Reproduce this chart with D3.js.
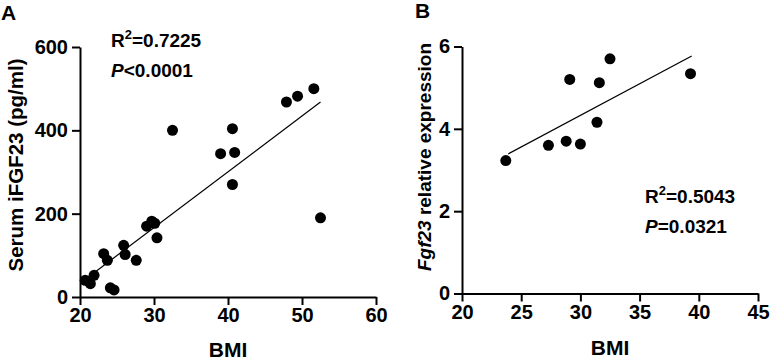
<!DOCTYPE html>
<html>
<head>
<meta charset="utf-8">
<script src="https://cdn.jsdelivr.net/npm/d3@7"></script>
<style>
  body { margin: 0; background: #fff; }
  text { font-family: "Liberation Sans", Arial, sans-serif; font-weight: bold; fill: #000; }
</style>
</head>
<body>
<script>
// Panel A: BMI vs serum iFGF23 (pg/ml)
var bmiA = [32.5, 40.6, 39.0, 40.9, 47.9, 49.4, 51.6, 40.6, 52.5,
            20.7, 21.4, 21.9, 23.2, 23.7, 24.1, 24.6, 25.9, 26.1, 27.6, 29.0, 29.7, 30.1, 30.4];
var ifgfA = [400, 404, 344, 347, 468, 482, 500, 270, 190,
             40, 32, 52, 104, 88, 22, 17, 124, 102, 88, 170, 182, 177, 142];
var fitAx = [20.7, 52.5];
var fitAy = [42, 468];

// Panel B: BMI vs Fgf23 relative expression
var bmiB = [23.7, 27.3, 28.8, 30.0, 29.1, 31.6, 31.4, 32.5, 39.3];
var fgfB = [3.23, 3.60, 3.70, 3.63, 5.20, 5.12, 4.16, 5.70, 5.34];
var fitBx = [23.9, 39.4];
var fitBy = [3.39, 5.77];

var ticksAx = [20, 30, 40, 50, 60];
var ticksAy = [0, 200, 400, 600];
var ticksBx = [20, 25, 30, 35, 40, 45];
var ticksBy = [0, 2, 4, 6];

var svg = d3.select("body").append("svg")
  .attr("width", 771)
  .attr("height", 360);

function panel(opt) {
  var x = d3.scaleLinear().domain(opt.xdom).range(opt.xr);
  var y = d3.scaleLinear().domain(opt.ydom).range(opt.yr);

  var xAxis = svg.append("g")
    .attr("transform", "translate(0," + opt.yr[0] + ")")
    .call(d3.axisBottom(x).tickValues(opt.xt).tickFormat(d3.format("d"))
      .tickSize(8).tickPadding(3).tickSizeOuter(0));
  var yAxis = svg.append("g")
    .attr("transform", "translate(" + opt.xr[0] + ",0)")
    .call(d3.axisLeft(y).tickValues(opt.yt).tickFormat(d3.format("d"))
      .tickSize(8).tickPadding(4).tickSizeOuter(0));

  [xAxis, yAxis].forEach(function(g) {
    g.selectAll("path, line").attr("stroke", "#000").attr("stroke-width", 2);
    g.selectAll("text").style("font-size", "20px").attr("fill", "#000");
  });

  // fit line
  svg.append("line")
    .attr("x1", x(opt.fx[0])).attr("y1", y(opt.fy[0]))
    .attr("x2", x(opt.fx[1])).attr("y2", y(opt.fy[1]))
    .attr("stroke", "#000").attr("stroke-width", 1.2);

  svg.selectAll(null)
    .data(opt.xs)
    .enter()
    .append("circle")
      .attr("cx", function(d) { return x(d); })
      .attr("cy", function(d, i) { return y(opt.ys[i]); })
      .attr("r", 5.5)
      .style("fill", "#000");

  svg.append("text")
    .attr("x", opt.xlab[0]).attr("y", opt.xlab[1])
    .attr("text-anchor", "middle")
    .style("font-size", "21px")
    .text("BMI");
}

panel({
  xdom: [20, 60], ydom: [0, 600], xr: [80, 376], yr: [297, 47],
  xt: ticksAx, yt: ticksAy, xs: bmiA, ys: ifgfA, fx: fitAx, fy: fitAy,
  xlab: [228, 357]
});
panel({
  xdom: [20, 45], ydom: [0, 6], xr: [462, 758], yr: [293.5, 46.5],
  xt: ticksBx, yt: ticksBy, xs: bmiB, ys: fgfB, fx: fitBx, fy: fitBy,
  xlab: [610, 355]
});

// y axis titles
svg.append("text")
  .attr("transform", "translate(23,165)rotate(-90)")
  .attr("text-anchor", "middle")
  .style("font-size", "20.5px")
  .text("Serum iFGF23 (pg/ml)");

var tB = svg.append("text")
  .attr("transform", "translate(431,157)rotate(-90)")
  .attr("text-anchor", "middle")
  .style("font-size", "19px");
tB.append("tspan").style("font-style", "italic").text("Fgf23");
tB.append("tspan").text(" relative expression");

// panel letters
svg.append("text").attr("x", 1).attr("y", 20).style("font-size", "21px").text("A");
svg.append("text").attr("x", 415).attr("y", 18).style("font-size", "21px").text("B");

// stats
function stats(xp, yp, r2, pSign, pVal) {
  var t1 = svg.append("text").attr("x", xp).attr("y", yp).style("font-size", "19px");
  t1.append("tspan").text("R");
  t1.append("tspan").attr("dy", -8).style("font-size", "13px").text("2");
  t1.append("tspan").attr("dy", 8).text("=" + r2);
  var t2 = svg.append("text").attr("x", xp).attr("y", yp + 30).style("font-size", "19px");
  t2.append("tspan").style("font-style", "italic").text("P");
  t2.append("tspan").text(pSign + pVal);
}
stats(111, 47, "0.7225", "<", "0.0001");
stats(645, 203, "0.5043", "=", "0.0321");
</script>
</body>
</html>
